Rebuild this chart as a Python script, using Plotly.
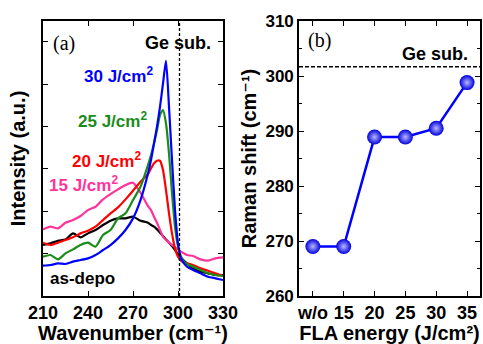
import plotly.graph_objects as go

# ---------------- data ----------------
wavenumber = [210, 215, 220, 225, 230, 235, 240, 245, 250, 255, 260, 265, 270, 275, 280,
              282, 284, 286, 288, 290, 292, 294, 296, 298, 300, 302, 304, 306, 310, 315, 320, 325, 330]

int_30 = [0.715, 0.731, 0.770, 0.755, 0.810, 0.849, 0.888, 0.967, 1.085, 1.203, 1.360, 1.557, 1.832, 2.264, 2.893,
          3.208, 3.601, 3.994, 4.465, 5.016, 5.550, 4.465, 3.208, 2.028, 1.242, 0.888, 0.770, 0.692, 0.613, 0.535, 0.456, 0.417, 0.377]
int_25 = [0.928, 0.967, 0.865, 1.006, 1.101, 1.203, 1.258, 1.164, 1.439, 1.557, 1.832, 1.950, 2.264, 2.579, 3.090,
          3.325, 3.601, 3.915, 4.269, 4.387, 4.072, 3.365, 2.421, 1.635, 1.164, 0.928, 0.810, 0.755, 0.692, 0.613, 0.535, 0.495, 0.472]
int_20 = [1.258, 1.203, 1.258, 1.321, 1.384, 1.478, 1.541, 1.635, 1.792, 1.950, 2.091, 2.280, 2.484, 2.697, 2.877,
          3.011, 3.129, 3.192, 3.192, 2.972, 2.500, 1.950, 1.478, 1.124, 0.928, 0.833, 0.786, 0.770, 0.731, 0.653, 0.597, 0.535, 0.472]
int_15 = [1.572, 1.635, 1.596, 1.730, 1.792, 1.887, 2.028, 2.107, 2.280, 2.406, 2.516, 2.618, 2.673, 2.437, 2.123,
          2.028, 1.871, 1.730, 1.557, 1.399, 1.321, 1.258, 1.203, 1.148, 1.101, 1.046, 1.006, 0.967, 0.943, 0.865, 0.833, 0.888, 0.912]
int_depo = [1.203, 1.242, 1.305, 1.336, 1.478, 1.384, 1.478, 1.557, 1.675, 1.777, 1.832, 1.832, 1.871, 1.777, 1.730,
            1.675, 1.635, 1.572, 1.494, 1.415, 1.336, 1.258, 1.179, 1.085, 0.991, 0.912, 0.833, 0.770, 0.653, 0.574, 0.535, 0.495, 0.495]

ge_sub_peak = 301.0

fla_labels = ["w/o", "15", "20", "25", "30", "35"]
fla_pos = [0, 1, 2, 3, 4, 5]
raman_shift = [269.0, 269.0, 288.9, 288.9, 290.5, 298.8]
ge_sub_shift = 301.7

x_ticks_a = [210, 240, 270, 300, 330]
y_ticks_b = [260, 270, 280, 290, 300, 310]

# ---------------- figure ----------------
FONT = "Liberation Sans, Arial, DejaVu Sans, sans-serif"
fig = go.Figure()

spectra = [
    ("as-depo", int_depo, "#000000"),
    ("15 J/cm2", int_15, "#ff3399"),
    ("20 J/cm2", int_20, "#ff0000"),
    ("25 J/cm2", int_25, "#1a8c1a"),
    ("30 J/cm2", int_30, "#0000ff"),
]
for name, vals, col in spectra:
    fig.add_trace(go.Scatter(x=wavenumber, y=vals, mode="lines", name=name,
                             line=dict(color=col, width=2.2, shape="spline", smoothing=0.6),
                             xaxis="x", yaxis="y", showlegend=False))

# Ge substrate reference line (a)
fig.add_trace(go.Scatter(x=[ge_sub_peak, ge_sub_peak], y=[0, 6.49], mode="lines",
                         line=dict(color="black", width=1.3, dash="3px,2px"),
                         xaxis="x", yaxis="y", showlegend=False))

# (b) Raman shift vs FLA energy
fig.add_trace(go.Scatter(x=[-0.45, 5.42], y=[ge_sub_shift, ge_sub_shift], mode="lines",
                         line=dict(color="black", width=1.5, dash="4px,2px"),
                         xaxis="x2", yaxis="y2", showlegend=False))
fig.add_trace(go.Scatter(x=fla_pos, y=raman_shift, mode="lines+markers",
                         line=dict(color="#0000ff", width=2.5),
                         marker=dict(size=15, color="#0000dd",
                                     gradient=dict(type="radial", color="#b8b8ff"),
                                     line=dict(width=0)),
                         xaxis="x2", yaxis="y2", showlegend=False))

tickfont = dict(family=FONT, size=18, color="black", weight="bold")
titlefont = dict(family=FONT, size=20, color="black", weight="bold")
common = dict(showline=True, linecolor="black", linewidth=1.6, mirror="ticks",
              ticks="inside", ticklen=5, tickwidth=1.3, tickcolor="black",
              showgrid=False, zeroline=False, automargin=False)

fig.update_layout(
    width=483, height=344,
    margin=dict(l=0, r=0, t=0, b=0),
    paper_bgcolor="white", plot_bgcolor="white",
    xaxis=dict(domain=[43/483, 223/483], range=[210, 330], tickvals=x_ticks_a,
               tickfont=tickfont, anchor="y",
               title=dict(text="Wavenumber (cm⁻¹)", font=titlefont, standoff=7),
               **common),
    yaxis=dict(domain=[48/344, 323/344], range=[0, 6.49], tickvals=[1, 2, 3, 4, 5, 6],
               showticklabels=False, anchor="x",
               title=dict(text="Intensity (a.u.)", font=titlefont, standoff=10),
               **common),
    xaxis2=dict(domain=[299/483, 480/483], range=[-0.45, 5.42], tickvals=fla_pos,
                ticktext=fla_labels, tickfont=tickfont, anchor="y2",
                title=dict(text="FLA energy (J/cm²)", font=titlefont, standoff=7),
                **common),
    yaxis2=dict(domain=[48/344, 323/344], range=[260, 310], tickvals=y_ticks_b,
                tickfont=dict(family=FONT, size=17, color="black", weight="bold"),
                anchor="x2",
                minor=dict(dtick=5, ticks="inside", ticklen=3, tickcolor="black", tickwidth=1.2),
                title=dict(text="Raman shift (cm⁻¹)", font=titlefont, standoff=3),
                **common),
)

lab = dict(family=FONT, size=17, weight="bold")
annots = [
    dict(x=236, y=5.21, text="30 J/cm<sup>2</sup>", color="#0000ff"),
    dict(x=232, y=4.15, text="25 J/cm<sup>2</sup>", color="#1a8c1a"),
    dict(x=228, y=3.22, text="20 J/cm<sup>2</sup>", color="#ff0000"),
    dict(x=212.7, y=2.64, text="15 J/cm<sup>2</sup>", color="#ff3399"),
    dict(x=213.3, y=0.42, text="as-depo", color="#000000"),
]
for a in annots:
    fig.add_annotation(x=a["x"], y=a["y"], xref="x", yref="y", text=a["text"], showarrow=False,
                       xanchor="left", yanchor="middle", font=dict(color=a["color"], **lab))
fig.add_annotation(x=323.3, y=5.97, xref="x", yref="y", text="Ge sub.", showarrow=False,
                   xanchor="right", yanchor="middle", font=dict(color="black", family=FONT, size=18, weight="bold"))
fig.add_annotation(x=5.10, y=304.0, xref="x2", yref="y2", text="Ge sub.", showarrow=False,
                   xanchor="right", yanchor="middle", font=dict(color="black", family=FONT, size=18, weight="bold"))
fig.add_annotation(x=215.0, y=5.97, xref="x", yref="y", text="(a)", showarrow=False,
                   xanchor="left", yanchor="middle", font=dict(color="black", family="Liberation Serif, serif", size=20))
fig.add_annotation(x=-0.22, y=306.5, xref="x2", yref="y2", text="(b)", showarrow=False,
                   xanchor="left", yanchor="middle", font=dict(color="black", family="Liberation Serif, serif", size=20))

fig.write_html("out.html")
